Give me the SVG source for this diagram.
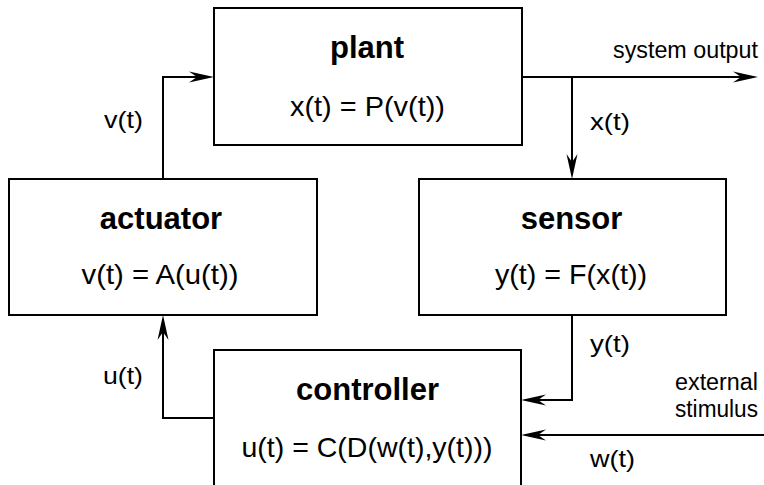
<svg xmlns="http://www.w3.org/2000/svg" width="764" height="485" viewBox="0 0 764 485">
  <style>
    .box { fill: #ffffff; stroke: #000000; stroke-width: 2; }
    .wire { fill: none; stroke: #000000; stroke-width: 2; stroke-linecap: butt; stroke-linejoin: miter; }
    .arr { marker-end: url(#ah); }
    text { font-family: "Liberation Sans", Arial, Helvetica, sans-serif; fill: #000000; }
    .title { font-size: 31px; font-weight: bold; text-anchor: middle; }
    .eq { font-size: 28px; text-anchor: middle; }
    .lbl { font-size: 24px; }
    .sm { font-size: 23px; }
  </style>
  <defs>
    <marker id="ah" markerUnits="userSpaceOnUse" viewBox="-26 -6 27 12" refX="-4" refY="0" markerWidth="27" markerHeight="12" orient="auto">
      <path d="M0,0 L-25,-5.5 L-17,0 L-25,5.5 Z" fill="#000000"/>
    </marker>
  </defs>
  <rect width="764" height="485" fill="#ffffff"/>

  <g id="connectors">
    <path class="wire arr" d="M163,179 L163,77 L210,77"/>
    <path class="wire arr" d="M522,77 L754,77"/>
    <path class="wire arr" d="M572,77 L572,175"/>
    <path class="wire arr" d="M572,315 L572,400 L525,400"/>
    <path class="wire arr" d="M764,435 L525,435"/>
    <path class="wire arr" d="M214,418 L163,418 L163,319"/>
  </g>

  <g id="plant">
    <rect class="box" x="214" y="8" width="308" height="137"/>
    <text class="title" x="367" y="58">plant</text>
    <text class="eq" x="367.5" y="116" textLength="155" lengthAdjust="spacingAndGlyphs">x(t) = P(v(t))</text>
  </g>

  <g id="actuator">
    <rect class="box" x="9" y="179" width="308" height="136"/>
    <text class="title" x="161" y="229">actuator</text>
    <text class="eq" x="160" y="284" textLength="157" lengthAdjust="spacingAndGlyphs">v(t) = A(u(t))</text>
  </g>

  <g id="sensor">
    <rect class="box" x="419" y="179" width="307" height="136"/>
    <text class="title" x="571.5" y="229">sensor</text>
    <text class="eq" x="571" y="284" textLength="152" lengthAdjust="spacingAndGlyphs">y(t) = F(x(t))</text>
  </g>

  <g id="controller">
    <rect class="box" x="214" y="350" width="307" height="150"/>
    <text class="title" x="367.5" y="400">controller</text>
    <text class="eq" x="367" y="457" textLength="251" lengthAdjust="spacingAndGlyphs">u(t) = C(D(w(t),y(t)))</text>
  </g>

  <g id="labels">
    <text class="lbl" x="104" y="128" textLength="39" lengthAdjust="spacingAndGlyphs">v(t)</text>
    <text class="sm" x="613" y="58" textLength="145" lengthAdjust="spacingAndGlyphs">system output</text>
    <text class="lbl" x="590" y="130" textLength="40" lengthAdjust="spacingAndGlyphs">x(t)</text>
    <text class="lbl" x="590" y="352" textLength="40" lengthAdjust="spacingAndGlyphs">y(t)</text>
    <text class="lbl" x="103" y="384" textLength="40" lengthAdjust="spacingAndGlyphs">u(t)</text>
    <text class="sm" x="675" y="390" textLength="83" lengthAdjust="spacingAndGlyphs">external</text>
    <text class="sm" x="675" y="417" textLength="83" lengthAdjust="spacingAndGlyphs">stimulus</text>
    <text class="lbl" x="590" y="467" textLength="45" lengthAdjust="spacingAndGlyphs">w(t)</text>
  </g>
</svg>
